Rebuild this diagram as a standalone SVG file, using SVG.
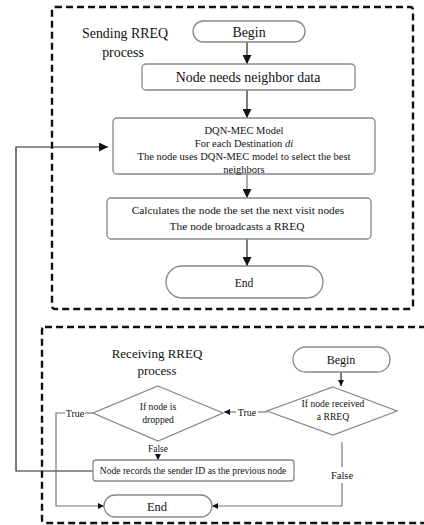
<svg xmlns="http://www.w3.org/2000/svg" width="424" height="525" viewBox="0 0 424 525">
<style>
text{font-family:"Liberation Serif","Times New Roman",serif;fill:#111;text-anchor:middle}
.dash{fill:none;stroke:#111;stroke-width:2.4;stroke-dasharray:7 4}
.box{fill:#fff;stroke:#888;stroke-width:1.3}
.c{fill:none;stroke:#222;stroke-width:1.2}
.cg{fill:none;stroke:#777;stroke-width:1.2}
</style>
<defs>
<marker id="a" viewBox="0 0 10 10" refX="10" refY="5" markerWidth="9" markerHeight="9" markerUnits="userSpaceOnUse" orient="auto">
<path d="M0,0 L10,5 L0,10 z" fill="#111"/>
</marker>
<marker id="s" viewBox="0 0 10 10" refX="10" refY="5" markerWidth="6" markerHeight="6" markerUnits="userSpaceOnUse" orient="auto">
<path d="M0,0 L10,5 L0,10 z" fill="#111"/>
</marker>
</defs>
<g id="frames">
<rect class="dash" x="52" y="7" width="361" height="302" rx="3"/>
<rect class="dash" x="42" y="327" width="400" height="196" rx="3"/>
<text x="82" y="38" font-size="13.9" style="text-anchor:start">Sending RREQ</text>
<text x="123" y="57" font-size="13.9">process</text>
<text x="157" y="358" font-size="13">Receiving RREQ</text>
<text x="157" y="375" font-size="13">process</text>
</g>
<g id="connectors">
<line class="c" x1="247" y1="42" x2="247" y2="64" marker-end="url(#a)"/>
<line class="c" x1="247" y1="90" x2="247" y2="118" marker-end="url(#a)"/>
<line class="cg" x1="247" y1="174" x2="247" y2="198" marker-end="url(#a)"/>
<line class="c" x1="247" y1="239" x2="247" y2="266" marker-end="url(#a)"/>
<polyline class="c" points="93,471 16,471 16,147 108,147" marker-end="url(#a)"/>
<line class="c" x1="341" y1="372" x2="341" y2="386" marker-end="url(#s)"/>
<line class="cg" x1="267" y1="412" x2="258" y2="412"/>
<line class="cg" x1="236" y1="412" x2="224" y2="412" marker-end="url(#s)"/>
<text x="247" y="416" font-size="10">True</text>
<line class="cg" x1="93" y1="413" x2="85" y2="413"/>
<polyline class="cg" points="65,413 56,413 56,506 104,506" marker-end="url(#s)"/>
<text x="75" y="417" font-size="10">True</text>
<text x="158" y="452" font-size="9.5">False</text>
<line class="c" x1="158" y1="454" x2="158" y2="460" marker-end="url(#s)"/>
<line class="cg" x1="342" y1="442" x2="342" y2="467"/>
<polyline class="cg" points="342,483 342,506 212,506" marker-end="url(#s)"/>
<text x="342" y="479" font-size="10.5">False</text>
</g>
<g id="begin1">
<rect class="box" x="193" y="21" width="112" height="21" rx="10.5"/>
<text x="249" y="37" font-size="13.9">Begin</text>
</g>
<g id="needs">
<rect class="box" x="142" y="64" width="213" height="26" rx="4"/>
<text x="248" y="82" font-size="13.9">Node needs neighbor data</text>
</g>
<g id="dqn">
<rect class="box" x="113" y="118" width="262" height="56" rx="4"/>
<text x="244" y="134" font-size="10.5">DQN-MEC Model</text>
<text x="244" y="147" font-size="10.5">For each Destination <tspan font-style="italic">di</tspan></text>
<text x="244" y="160" font-size="10.5">The node uses DQN-MEC model to select the best</text>
<text x="244" y="173" font-size="10.5">neighbors</text>
</g>
<g id="calc">
<rect class="box" x="107" y="198" width="264" height="41" rx="4"/>
<text x="238" y="214" font-size="11.4">Calculates the node the set the next visit nodes</text>
<text x="237" y="230" font-size="11.4">The node broadcasts a RREQ</text>
</g>
<g id="end1">
<rect class="box" x="166" y="266" width="157" height="32" rx="16"/>
<text x="244" y="287" font-size="11.6">End</text>
</g>
<g id="begin2">
<rect class="box" x="293" y="347" width="97" height="25" rx="12.5"/>
<text x="341" y="364" font-size="12">Begin</text>
</g>
<g id="received">
<polygon class="box" points="333,387 397,411 333,435 267,411"/>
<text x="333" y="407" font-size="9.7">If node received</text>
<text x="333" y="420" font-size="9.7">a RREQ</text>
</g>
<g id="dropped">
<polygon class="box" points="158,386 223,413 158,441 93,413"/>
<text x="158" y="410" font-size="9.7">If node is</text>
<text x="158" y="423" font-size="9.7">dropped</text>
</g>
<g id="records">
<rect class="box" x="93" y="460" width="201" height="21" rx="3"/>
<text x="193" y="474" font-size="9.6">Node records the sender ID as the previous node</text>
</g>
<g id="end2">
<rect class="box" x="104" y="495" width="108" height="22" rx="11"/>
<text x="157" y="511" font-size="12.5">End</text>
</g>
</svg>
